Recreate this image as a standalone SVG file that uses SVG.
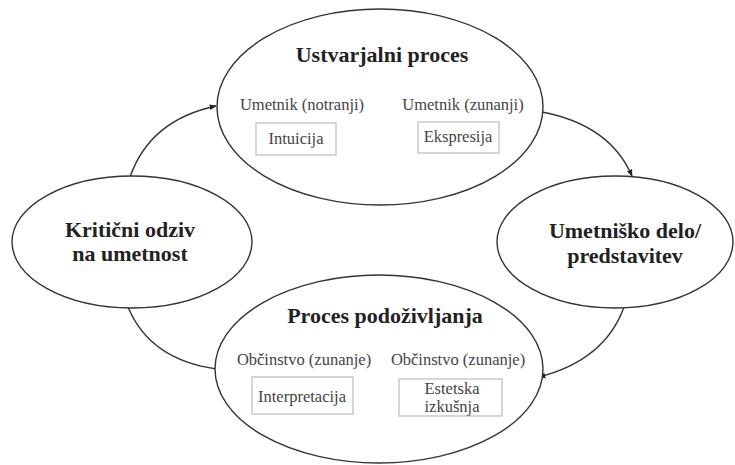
<svg xmlns="http://www.w3.org/2000/svg" width="735" height="465" viewBox="0 0 735 465">
<style>
.el{fill:#fff;stroke:#333;stroke-width:1.4}
.bx{fill:#fff;stroke:#bbb;stroke-width:1.2}
text{font-family:'Liberation Serif','Times New Roman',serif;text-anchor:middle}
.t{font-weight:bold;font-size:22px;fill:#222}
.s{font-size:16.5px;fill:#444}
.c{fill:none;stroke:#333;stroke-width:1.4}
</style>
<defs>
<marker id="ah" viewBox="0 0 10 10" refX="9" refY="5" markerWidth="7" markerHeight="7" orient="auto" markerUnits="userSpaceOnUse">
<path d="M0,1 L10,5 L0,9 Z" fill="#222"/>
</marker>
</defs>
<g id="connectors">
<path class="c" d="M130,177 Q150,120 216,106" marker-end="url(#ah)"/>
<path class="c" d="M542,112 Q610,125 632,176" marker-end="url(#ah)"/>
<path class="c" d="M624,307 Q605,360 539,377" marker-end="url(#ah)"/>
<path class="c" d="M128,307 Q150,360 217,369"/>
</g>
<g id="critical">
<ellipse class="el" cx="132" cy="242" rx="120" ry="66"/>
<text class="t" x="130" y="237">Kritični odziv</text>
<text class="t" x="130" y="261">na umetnost</text>
</g>
<g id="artwork">
<ellipse class="el" cx="615" cy="242" rx="118" ry="66"/>
<text class="t" x="625" y="238">Umetniško delo/</text>
<text class="t" x="625" y="263">predstavitev</text>
</g>
<g id="creative">
<ellipse class="el" cx="380" cy="107" rx="163" ry="98"/>
<text class="t" x="382" y="62">Ustvarjalni proces</text>
<text class="s" x="302" y="110">Umetnik (notranji)</text>
<text class="s" x="463" y="110">Umetnik (zunanji)</text>
<g id="intuicija">
<rect class="bx" x="256" y="123" width="80" height="32"/>
<text class="s" x="296" y="144">Intuicija</text>
</g>
<g id="ekspresija">
<rect class="bx" x="418" y="122" width="81" height="31"/>
<text class="s" x="458" y="142">Ekspresija</text>
</g>
</g>
<g id="experience">
<ellipse class="el" cx="379" cy="369" rx="164" ry="94"/>
<text class="t" x="385" y="323">Proces podoživljanja</text>
<text class="s" x="304" y="365">Občinstvo (zunanje)</text>
<text class="s" x="458" y="365">Občinstvo (zunanje)</text>
<g id="interpretacija">
<rect class="bx" x="252" y="377" width="101" height="37"/>
<text class="s" x="302" y="402">Interpretacija</text>
</g>
<g id="estetska">
<rect class="bx" x="399" y="379" width="103" height="37"/>
<text class="s" x="452" y="394">Estetska</text>
<text class="s" x="452" y="412">izkušnja</text>
</g>
</g>
</svg>
